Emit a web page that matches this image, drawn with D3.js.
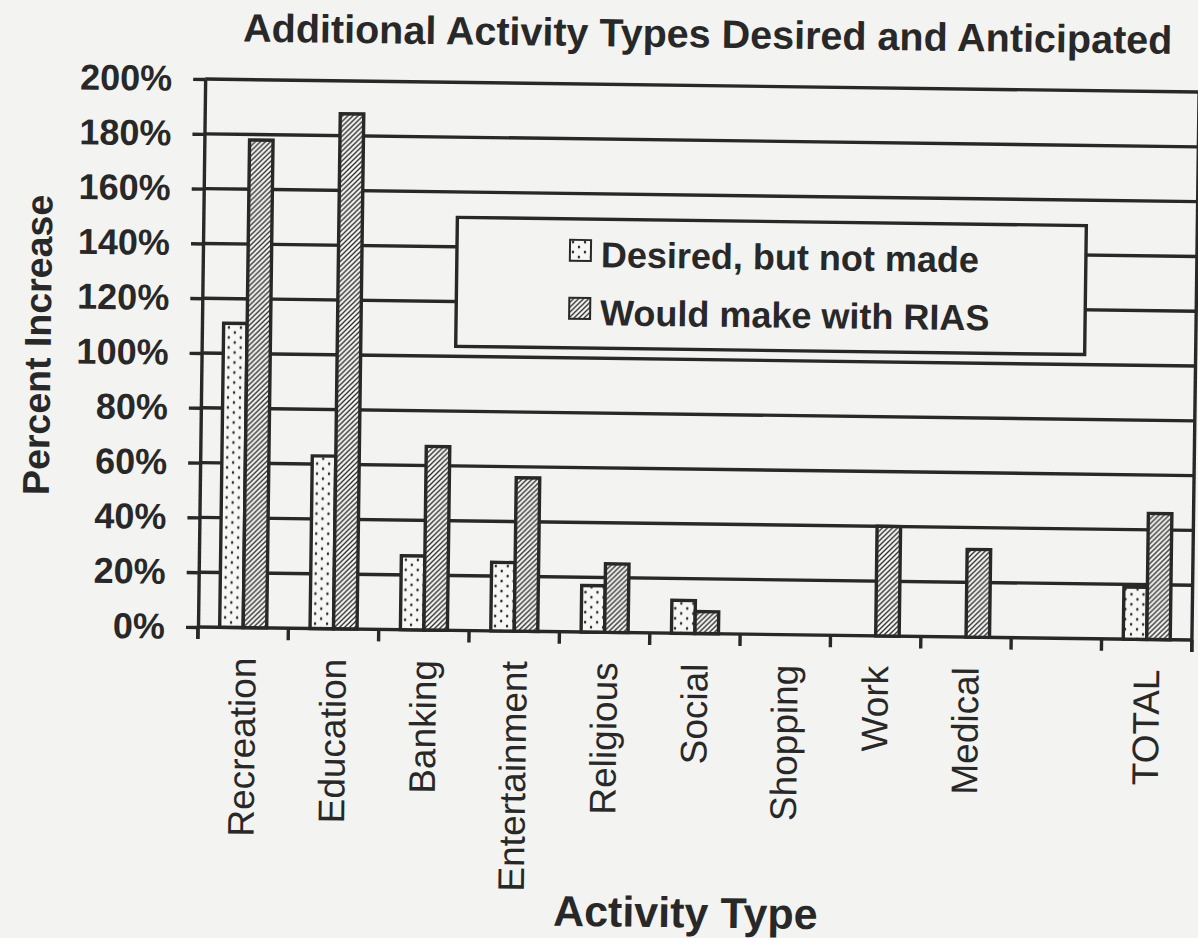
<!DOCTYPE html>
<html>
<head>
<meta charset="utf-8">
<script src="https://cdn.jsdelivr.net/npm/d3@7"></script>
<style>
  body { margin: 0; background: #f3f3f1; }
  svg { display: block; }
</style>
</head>
<body>
<svg id="chart" width="1198" height="938"></svg>
<script>
// Activity categories (the blank entry is an intentional spacer before TOTAL)
const categories = ["Recreation", "Education", "Banking", "Entertainment", "Religious",
                    "Social", "Shopping", "Work", "Medical", "", "TOTAL"];

// Percent increase per category
const desiredValues = [111, 63, 27, 25, 17, 12, 0, 0, 0, 0, 19];
const riasValues    = [178, 188, 67, 56, 25, 8, 0, 40, 32, 0, 46];

const seriesNames = ["Desired, but not made", "Would make with RIAS"];
const yTicks = [0, 20, 40, 60, 80, 100, 120, 140, 160, 180, 200];

const chartTitle = "Additional Activity Types Desired and Anticipated";
const yTitle = "Percent Increase";
const xTitle = "Activity Type";

// ---- layout ----
const W = 1198, H = 938;
const plot = { left: 198, right: 1192, top: 79, bottom: 627 };
const ink = "#282828";
const paper = "#f3f3f1";
const lineW = 3.4;
const fontFamily = "'Liberation Sans', Arial, Helvetica, sans-serif";

const svg = d3.select("#chart");
svg.append("rect").attr("width", W).attr("height", H).attr("fill", paper);

// fill patterns: dotted and diagonal hatch
const defs = svg.append("defs");
const dots = defs.append("pattern")
  .attr("id", "dots").attr("patternUnits", "userSpaceOnUse")
  .attr("width", 12).attr("height", 10);
dots.append("rect").attr("width", 12).attr("height", 10).attr("fill", "#f7f7f5");
dots.append("ellipse").attr("cx", 3).attr("cy", 2).attr("rx", 1.2).attr("ry", 1.5).attr("fill", ink);
dots.append("ellipse").attr("cx", 9).attr("cy", 7).attr("rx", 1.2).attr("ry", 1.5).attr("fill", ink);

const hatch = defs.append("pattern")
  .attr("id", "hatch").attr("patternUnits", "userSpaceOnUse")
  .attr("width", 5).attr("height", 5);
hatch.append("rect").attr("width", 5).attr("height", 5).attr("fill", "#f7f7f5");
hatch.append("path")
  .attr("d", "M-1,1 L1,-1 M0,5 L5,0 M4,6 L6,4")
  .attr("stroke", ink).attr("stroke-width", 1.3);

const fills = ["url(#dots)", "url(#hatch)"];
const seriesValues = [desiredValues, riasValues];

// the printed page sits at a slight tilt
const g = svg.append("g").attr("transform", `rotate(0.75, ${plot.left}, ${plot.bottom})`);

const x = d3.scaleBand().domain(categories).range([plot.left, plot.right]).padding(0);
const y = d3.scaleLinear().domain([0, 200]).range([plot.bottom, plot.top]);
const bw = x.bandwidth();
const barW = bw * 0.26;
const barOffset = (bw - 2 * barW) / 2;

// horizontal gridlines
g.selectAll("line.grid").data(yTicks).join("line")
  .attr("class", "grid")
  .attr("x1", plot.left).attr("x2", plot.right)
  .attr("y1", d => y(d)).attr("y2", d => y(d))
  .attr("stroke", ink).attr("stroke-width", lineW);

// right border of the plot area
g.append("line")
  .attr("x1", plot.right).attr("x2", plot.right)
  .attr("y1", y(200)).attr("y2", y(0) + 12)
  .attr("stroke", ink).attr("stroke-width", lineW);

// y axis
const yAxis = g.append("g")
  .attr("transform", `translate(${plot.left},0)`)
  .call(d3.axisLeft(y).tickValues(yTicks).tickFormat(d => d + "%")
    .tickSize(12).tickSizeOuter(0).tickPadding(21));
yAxis.select(".domain").attr("stroke", ink).attr("stroke-width", lineW);
yAxis.selectAll(".tick line").attr("stroke", ink).attr("stroke-width", lineW);
yAxis.selectAll(".tick text")
  .attr("fill", ink).attr("font-family", fontFamily)
  .attr("font-size", 36).attr("font-weight", "bold");
g.append("line")
  .attr("x1", plot.left).attr("x2", plot.left)
  .attr("y1", y(0)).attr("y2", y(0) + 12)
  .attr("stroke", ink).attr("stroke-width", lineW);

// x tick marks at category boundaries
const boundaries = categories.map(c => x(c)).concat([x.range()[1]]);
g.selectAll("line.xtick").data(boundaries).join("line")
  .attr("class", "xtick")
  .attr("x1", d => d).attr("x2", d => d)
  .attr("y1", y(0)).attr("y2", y(0) + 12)
  .attr("stroke", ink).attr("stroke-width", lineW);

// bars
seriesValues.forEach((vals, i) => {
  const data = categories.map((c, j) => ({ c, v: vals[j] })).filter(d => d.v > 0);
  g.selectAll(`rect.s${i}`).data(data).join("rect")
    .attr("class", `s${i}`)
    .attr("x", d => x(d.c) + barOffset + i * barW)
    .attr("y", d => y(d.v))
    .attr("width", barW)
    .attr("height", d => y(0) - y(d.v))
    .attr("fill", fills[i])
    .attr("stroke", ink).attr("stroke-width", lineW);
});

// category labels
g.selectAll("text.cat").data(categories).join("text")
  .attr("class", "cat")
  .attr("transform", d => `translate(${x(d) + bw / 2},${y(0) + 30}) rotate(-90)`)
  .attr("text-anchor", "end")
  .attr("dy", "0.35em")
  .attr("fill", ink).attr("font-family", fontFamily).attr("font-size", 37)
  .text(d => d);

// legend
const legend = g.append("g");
legend.append("rect")
  .attr("x", 452).attr("y", 214).attr("width", 629).attr("height", 129)
  .attr("fill", paper).attr("stroke", ink).attr("stroke-width", lineW);
const items = legend.selectAll("g.item").data(seriesNames).join("g")
  .attr("class", "item")
  .attr("transform", (d, i) => `translate(565,${235 + i * 58})`);
items.append("rect")
  .attr("width", 21).attr("height", 21)
  .attr("fill", (d, i) => fills[i])
  .attr("stroke", ink).attr("stroke-width", 2);
items.append("text")
  .attr("x", 31).attr("y", 27)
  .attr("fill", ink).attr("font-family", fontFamily)
  .attr("font-size", 36).attr("font-weight", "bold")
  .text(d => d);

// titles
g.append("text")
  .attr("x", 700).attr("y", 41)
  .attr("text-anchor", "middle")
  .attr("fill", ink).attr("font-family", fontFamily)
  .attr("font-size", 39.5).attr("font-weight", "bold")
  .text(chartTitle);

g.append("text")
  .attr("transform", "translate(47,347) rotate(-90)")
  .attr("text-anchor", "middle")
  .attr("fill", ink).attr("font-family", fontFamily)
  .attr("font-size", 37.5).attr("font-weight", "bold")
  .text(yTitle);

g.append("text")
  .attr("x", 689).attr("y", 921)
  .attr("text-anchor", "middle")
  .attr("fill", ink).attr("font-family", fontFamily)
  .attr("font-size", 43).attr("font-weight", "bold")
  .text(xTitle);
</script>
</body>
</html>
